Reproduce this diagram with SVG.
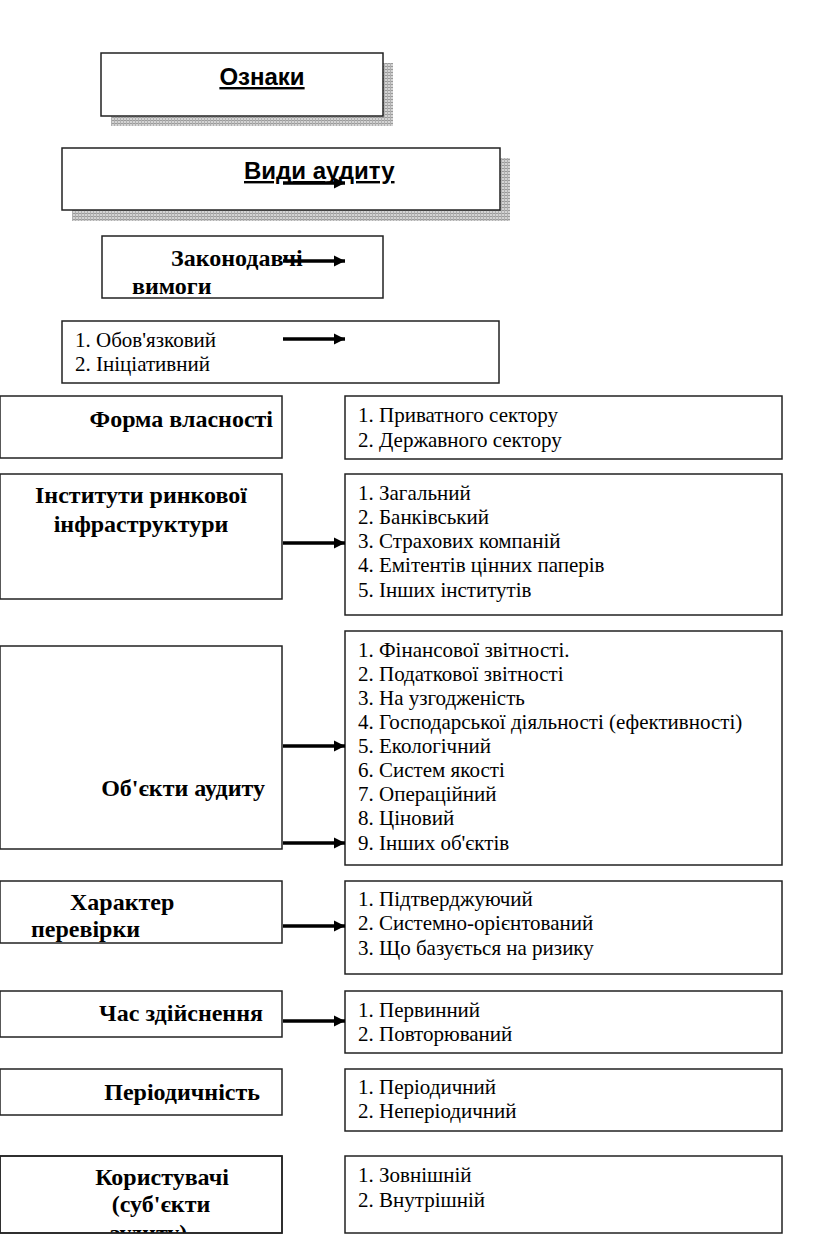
<svg xmlns="http://www.w3.org/2000/svg" width="816" height="1240" viewBox="0 0 816 1240">
<style>
.box{fill:#fff;stroke:#222;stroke-width:1.5}
.sh{fill:url(#hatch)}
.ti{font-family:"Liberation Sans",Arial,sans-serif;font-weight:bold;font-size:24px;fill:#000;text-decoration:underline}
.hb{font-family:"Liberation Serif","Times New Roman",serif;font-weight:bold;font-size:24px;fill:#000}
.li{font-family:"Liberation Serif","Times New Roman",serif;font-size:21px;fill:#000}
.ar{stroke:#000;stroke-width:3.5;fill:none;marker-end:url(#ah)}
</style>
<defs>
<pattern id="hatch" width="3" height="3" patternUnits="userSpaceOnUse">
<rect width="3" height="3" fill="#d4d4d4"/>
<rect width="3" height="1" fill="#9a9a9a"/>
<rect width="1" height="3" fill="#b0b0b0"/>
</pattern>
<marker id="ah" viewBox="0 0 10 10" refX="10" refY="5" markerWidth="3.2" markerHeight="3.2" orient="auto" markerUnits="strokeWidth">
<path d="M0,0 L10,5 L0,10 Z" fill="#000"/>
</marker>
<clipPath id="clipU"><rect x="0" y="1156" width="282" height="77"/></clipPath>
</defs>
<rect width="816" height="1240" fill="#fff"/>

<g id="ozn">
<rect class="sh" x="111" y="63" width="282" height="63"/>
<rect class="box" x="101" y="53" width="282" height="63"/>
<text class="ti" x="262" y="85" text-anchor="middle">Ознаки</text>
</g>

<g id="vydy">
<rect class="sh" x="72" y="158" width="438" height="63"/>
<rect class="box" x="62" y="148" width="438" height="62"/>
<text class="ti" x="244" y="179">Види аудиту</text>
</g>

<g id="zakon">
<rect class="box" x="102" y="236" width="281" height="62"/>
<text class="hb" x="171" y="266">Законодавчі</text>
<text class="hb" x="132" y="294">вимоги</text>
</g>

<g id="zakon-list">
<rect class="box" x="62" y="321" width="437" height="62"/>
<text class="li" x="75" y="347">1. Обов'язковий</text>
<text class="li" x="75" y="371">2. Ініціативний</text>
</g>

<g id="forma">
<rect class="box" x="0" y="396" width="282" height="62"/>
<text class="hb" x="273" y="427" text-anchor="end">Форма власності</text>
</g>
<g id="forma-list">
<rect class="box" x="345" y="396" width="437" height="63"/>
<text class="li" x="358" y="422">1. Приватного сектору</text>
<text class="li" x="358" y="447">2. Державного сектору</text>
</g>

<g id="inst">
<rect class="box" x="0" y="474" width="282" height="125"/>
<text class="hb" x="141" y="503" text-anchor="middle">Інститути ринкової</text>
<text class="hb" x="141" y="532" text-anchor="middle">інфраструктури</text>
</g>
<g id="inst-list">
<rect class="box" x="345" y="474" width="437" height="141"/>
<text class="li" x="358" y="500">1. Загальний</text>
<text class="li" x="358" y="524">2. Банківський</text>
<text class="li" x="358" y="548">3. Страхових компаній</text>
<text class="li" x="358" y="572">4. Емітентів цінних паперів</text>
<text class="li" x="358" y="597">5. Інших інститутів</text>
</g>

<g id="obj">
<rect class="box" x="0" y="646" width="282" height="203"/>
<text class="hb" x="265" y="796" text-anchor="end">Об'єкти аудиту</text>
</g>
<g id="obj-list">
<rect class="box" x="345" y="631" width="437" height="234"/>
<text class="li" x="358" y="657">1. Фінансової звітності.</text>
<text class="li" x="358" y="681">2. Податкової звітності</text>
<text class="li" x="358" y="705">3. На узгодженість</text>
<text class="li" x="358" y="729">4. Господарської діяльності (ефективності)</text>
<text class="li" x="358" y="753">5. Екологічний</text>
<text class="li" x="358" y="777">6. Систем якості</text>
<text class="li" x="358" y="801">7. Операційний</text>
<text class="li" x="358" y="825">8. Ціновий</text>
<text class="li" x="358" y="850">9. Інших об'єктів</text>
</g>

<g id="char">
<rect class="box" x="0" y="881" width="282" height="62"/>
<text class="hb" x="70" y="910">Характер</text>
<text class="hb" x="31" y="937">перевірки</text>
</g>
<g id="char-list">
<rect class="box" x="345" y="881" width="437" height="93"/>
<text class="li" x="358" y="906">1. Підтверджуючий</text>
<text class="li" x="358" y="930">2. Системно-орієнтований</text>
<text class="li" x="358" y="955">3. Що базується на ризику</text>
</g>

<g id="time">
<rect class="box" x="0" y="991" width="282" height="46"/>
<text class="hb" x="263" y="1021" text-anchor="end">Час здійснення</text>
</g>
<g id="time-list">
<rect class="box" x="345" y="991" width="437" height="62"/>
<text class="li" x="358" y="1017">1. Первинний</text>
<text class="li" x="358" y="1041">2. Повторюваний</text>
</g>

<g id="period">
<rect class="box" x="0" y="1069" width="282" height="46"/>
<text class="hb" x="260" y="1100" text-anchor="end">Періодичність</text>
</g>
<g id="period-list">
<rect class="box" x="345" y="1069" width="437" height="62"/>
<text class="li" x="358" y="1094">1. Періодичний</text>
<text class="li" x="358" y="1118">2. Неперіодичний</text>
</g>

<g id="users">
<rect class="box" x="0" y="1156" width="282" height="77"/>
<text class="hb" x="162" y="1185" text-anchor="middle">Користувачі</text>
<text class="hb" x="161" y="1212" text-anchor="middle">(суб'єкти</text>
<g clip-path="url(#clipU)"><text class="hb" x="148" y="1241" text-anchor="middle">аудиту)</text></g>
<rect x="0" y="1156" width="282" height="77" fill="none" stroke="#222" stroke-width="1.5"/>
</g>
<g id="users-list">
<rect class="box" x="345" y="1156" width="437" height="77"/>
<text class="li" x="358" y="1182">1. Зовнішній</text>
<text class="li" x="358" y="1207">2. Внутрішній</text>
</g>

<g id="connectors">
<line class="ar" x1="283" y1="183" x2="345" y2="183"/>
<line class="ar" x1="283" y1="261" x2="345" y2="261"/>
<line class="ar" x1="283" y1="339" x2="345" y2="339"/>
<line class="ar" x1="283" y1="543" x2="345" y2="543"/>
<line class="ar" x1="283" y1="746" x2="345" y2="746"/>
<line class="ar" x1="283" y1="843" x2="345" y2="843"/>
<line class="ar" x1="283" y1="926" x2="345" y2="926"/>
<line class="ar" x1="283" y1="1021" x2="345" y2="1021"/>
</g>
</svg>
